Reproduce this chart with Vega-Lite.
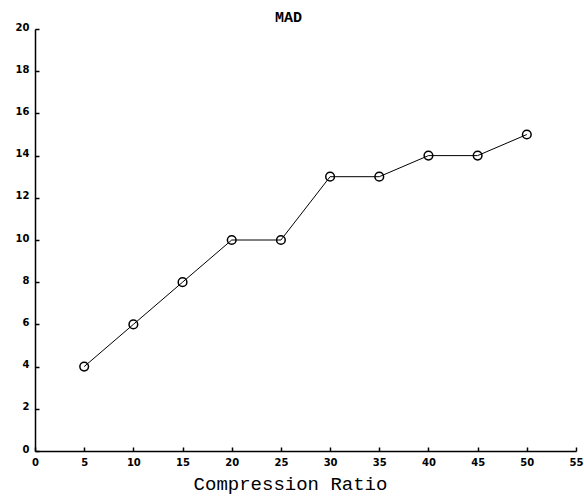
{
  "$schema": "https://vega.github.io/schema/vega-lite/v6.json",
  "width": 541,
  "height": 422,
  "autosize": "none",
  "padding": {"left": 35, "top": 29, "right": 8, "bottom": 48},
  "background": "white",
  "title": {"text": "MAD", "font": "Liberation Mono", "fontSize": 15, "fontWeight": "bold", "color": "black", "offset": 8, "dx": -17, "dy": 11},
  "config": {"view": {"stroke": null}},
  "data": {"values": [
    {"ratio": 5, "mad": 4},
    {"ratio": 10, "mad": 6},
    {"ratio": 15, "mad": 8},
    {"ratio": 20, "mad": 10},
    {"ratio": 25, "mad": 10},
    {"ratio": 30, "mad": 13},
    {"ratio": 35, "mad": 13},
    {"ratio": 40, "mad": 14},
    {"ratio": 45, "mad": 14},
    {"ratio": 50, "mad": 15}
  ]},
  "encoding": {
    "x": {"field": "ratio", "type": "quantitative", "scale": {"domain": [0, 55], "nice": false},
      "axis": {"values": [0,5,10,15,20,25,30,35,40,45,50,55], "title": "Compression Ratio", "titleFont": "Liberation Mono", "titleFontSize": 19, "titleFontWeight": "normal", "titleColor": "black", "titleX": 255, "titleY": 38, "titleBaseline": "alphabetic",
        "grid": false, "domainColor": "black", "domainWidth": 1.5, "tickColor": "black", "tickSize": -4, "tickWidth": 1.5, "labelFont": "DejaVu Sans", "labelFontWeight": "bold", "labelFontSize": 10, "labelColor": "black", "labelPadding": 10, "labelFlush": false}},
    "y": {"field": "mad", "type": "quantitative", "scale": {"domain": [0, 20], "nice": false},
      "axis": {"values": [0,2,4,6,8,10,12,14,16,18,20], "title": null,
        "grid": false, "domainColor": "black", "domainWidth": 1.5, "tickColor": "black", "tickSize": -4, "tickWidth": 1.5, "labelFont": "DejaVu Sans", "labelFontWeight": "bold", "labelFontSize": 10, "labelColor": "black", "labelPadding": 10, "labelOffset": -2, "labelFlush": false}}
  },
  "layer": [
    {"mark": {"type": "line", "color": "black", "strokeWidth": 1}},
    {"mark": {"type": "point", "shape": "circle", "filled": false, "color": "black", "size": 75, "strokeWidth": 1.5, "opacity": 1}}
  ]
}
